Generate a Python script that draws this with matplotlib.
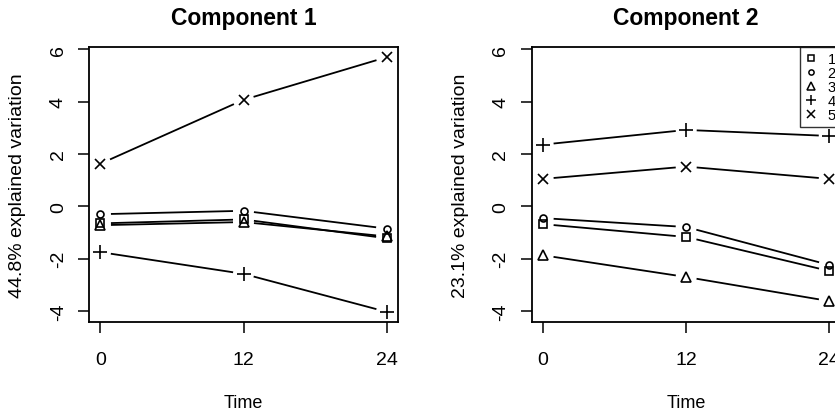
import numpy as np
import matplotlib
matplotlib.use("Agg")
import matplotlib.pyplot as plt
from matplotlib.lines import Line2D

plt.rcParams['font.family'] = ['Liberation Sans', 'DejaVu Sans']

time = [0, 12, 24]
groups = ["1", "2", "3", "4", "5"]
comp1 = {
    "1": [-0.65, -0.50, -1.22],
    "2": [-0.30, -0.17, -0.85],
    "3": [-0.72, -0.60, -1.15],
    "4": [-1.75, -2.58, -4.03],
    "5": [1.63, 4.07, 5.70],
}
comp2 = {
    "1": [-0.68, -1.17, -2.47],
    "2": [-0.45, -0.79, -2.24],
    "3": [-1.87, -2.70, -3.62],
    "4": [2.36, 2.92, 2.69],
    "5": [1.05, 1.52, 1.05],
}
titles = ["Component 1", "Component 2"]
ylabels = ["44.8% explained variation", "23.1% explained variation"]
xlabel = "Time"
xticks = [0, 12, 24]
yticks = [-4, -2, 0, 2, 4, 6]

markers = {"1": "s", "2": "o", "3": "^", "4": "+", "5": "x"}
msizes = {"1": 6, "2": 5, "3": 7.5, "4": 10, "5": 7}

W, H = 835, 414
fig = plt.figure(figsize=(W / 100, H / 100), dpi=100)

allv = np.concatenate([np.ravel(list(d.values())) for d in (comp1, comp2)])
lo, hi = allv.min(), allv.max()
ext = 0.04 * (hi - lo)
ylim = (lo - ext, hi + ext)
xlim = (-0.96, 24.96)

boxes = [(89, 48, 398, 323), (531.7, 48, 840.7, 323)]
gap = 10.5  # pixels of blank line around each point (R type="b")

for k, (data, box) in enumerate(zip((comp1, comp2), boxes)):
    x0, y0, x1, y1 = box
    bw, bh = x1 - x0, y1 - y0
    ax = fig.add_axes([x0 / W, 1 - y1 / H, bw / W, bh / H])
    ax.set_xlim(*xlim)
    ax.set_ylim(*ylim)
    sx = bw / (xlim[1] - xlim[0])
    sy = bh / (ylim[1] - ylim[0])
    for s in ax.spines.values():
        s.set_linewidth(1.3)
    ax.set_xticks(xticks)
    ax.set_yticks(yticks)
    ax.set_yticklabels([str(v) for v in yticks], rotation=90, va='center')
    ax.tick_params(direction='out', length=8, width=1.1, labelsize=14)
    ax.tick_params(axis='x', pad=13)
    ax.tick_params(axis='y', pad=8)
    ax.text(0.5, 1 + (y0 - 19) / bh, titles[k], transform=ax.transAxes,
            ha='center', va='center', fontsize=16.5, fontweight='bold')
    ax.text(0.5, -(403 - y1) / bh, xlabel, transform=ax.transAxes,
            ha='center', va='center', fontsize=13)
    ax.text((18 - 89) / 309, 0.5, ylabels[k], transform=ax.transAxes, rotation=90,
            ha='center', va='center', fontsize=14)
    for g in groups:
        ys = data[g]
        ax.plot(time, ys, linestyle='none', marker=markers[g], markersize=msizes[g],
                markerfacecolor='none', markeredgecolor='black', markeredgewidth=1.2,
                color='black', clip_on=False)
        for i in range(len(time) - 1):
            dxp = (time[i + 1] - time[i]) * sx
            dyp = (ys[i + 1] - ys[i]) * sy
            L = np.hypot(dxp, dyp)
            fx = gap / L * (time[i + 1] - time[i])
            fy = gap / L * (ys[i + 1] - ys[i])
            ax.plot([time[i] + fx, time[i + 1] - fx], [ys[i] + fy, ys[i + 1] - fy],
                    color='black', lw=1.3, solid_capstyle='butt')
    if k == 1:
        handles = [Line2D([], [], linestyle='none', marker=markers[g],
                          markersize=msizes[g] * 0.75, markerfacecolor='none',
                          markeredgecolor='black', markeredgewidth=1.1)
                   for g in groups]
        leg = ax.legend(handles, groups, loc='upper right', fontsize=10.5,
                        frameon=True, fancybox=False, borderaxespad=0,
                        handlelength=0.8, handletextpad=0.7, labelspacing=0.0,
                        borderpad=0.35)
        leg.get_frame().set_edgecolor('black')
        leg.get_frame().set_linewidth(1.0)

fig.savefig("out.png", dpi=100)
